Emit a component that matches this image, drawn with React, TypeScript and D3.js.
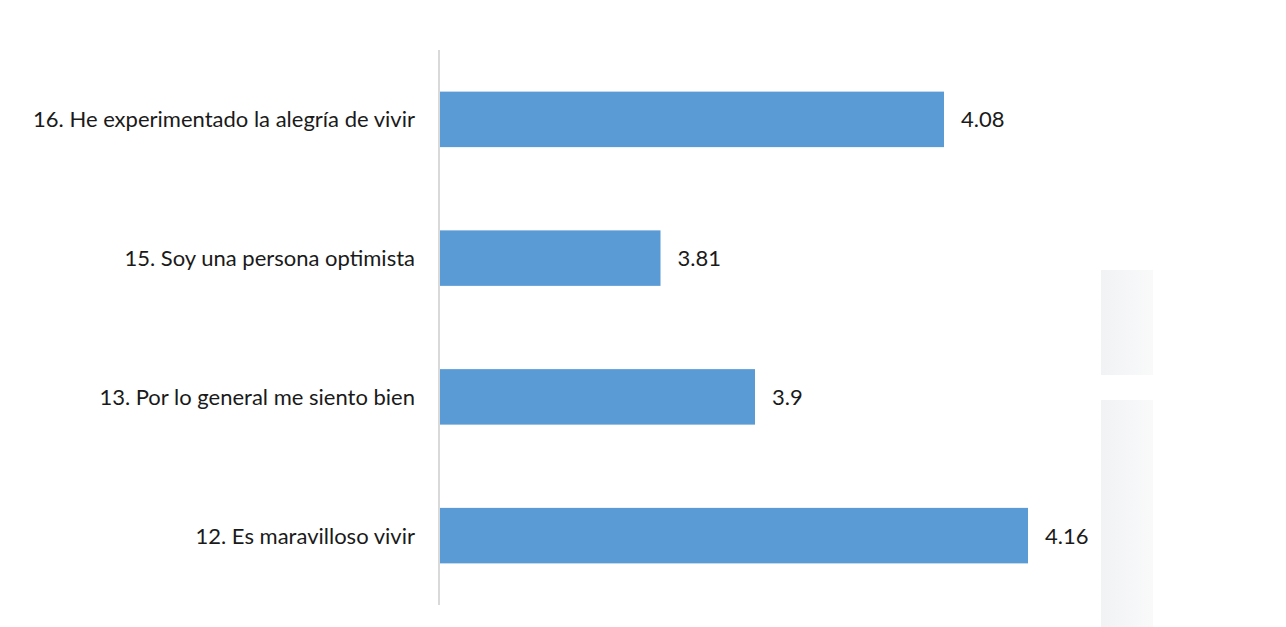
import React from "react";
import * as d3 from "d3";

const categories = [
  "16. He experimentado la alegría de vivir",
  "15. Soy una persona optimista",
  "13. Por lo general me siento bien",
  "12. Es maravilloso vivir",
];
const values = [4.08, 3.81, 3.9, 4.16];
const valueLabels = ["4.08", "3.81", "3.9", "4.16"];

const W = 1286;
const H = 627;

export default function App() {
  const x = d3.scaleLinear().domain([3.6, 4.2]).range([440, 440 + 1050 * 0.6]);
  const y = d3
    .scaleBand<string>()
    .domain(categories)
    .range([50, 605])
    .paddingInner(0.6)
    .paddingOuter(0.3);
  const font = "Lato, 'Open Sans', sans-serif";
  return (
    <svg
      width={W}
      height={H}
      style={{ position: "absolute", left: 0, top: 0, background: "#fff" }}
    >
      <defs>
        <linearGradient id="wm" x1="0" x2="1" y1="0" y2="0">
          <stop offset="0" stopColor="#e6e8eb" />
          <stop offset="1" stopColor="#f4f5f6" />
        </linearGradient>
      </defs>
      <rect x={1101} y={270} width={52} height={105} fill="url(#wm)" opacity={0.55} />
      <rect x={1101} y={400} width={52} height={227} fill="url(#wm)" opacity={0.55} />
      <line x1={439} x2={439} y1={50} y2={605} stroke="#d9d9d9" strokeWidth={2} />
      {categories.map((c, i) => {
        const yy = y(c)!;
        const bw = y.bandwidth();
        return (
          <g key={c}>
            <rect
              x={x(3.6)}
              y={yy}
              width={x(values[i]) - x(3.6)}
              height={bw}
              fill="#5b9bd5"
            />
            <text
              x={415}
              y={yy + bw / 2}
              dy="0.36em"
              textAnchor="end"
              fontFamily={font}
              fontSize={22}
              fill="#1a1a1a"
            >
              {c}
            </text>
            <text
              x={x(values[i]) + 17}
              y={yy + bw / 2}
              dy="0.36em"
              fontFamily={font}
              fontSize={22}
              fill="#1a1a1a"
            >
              {valueLabels[i]}
            </text>
          </g>
        );
      })}
    </svg>
  );
}
